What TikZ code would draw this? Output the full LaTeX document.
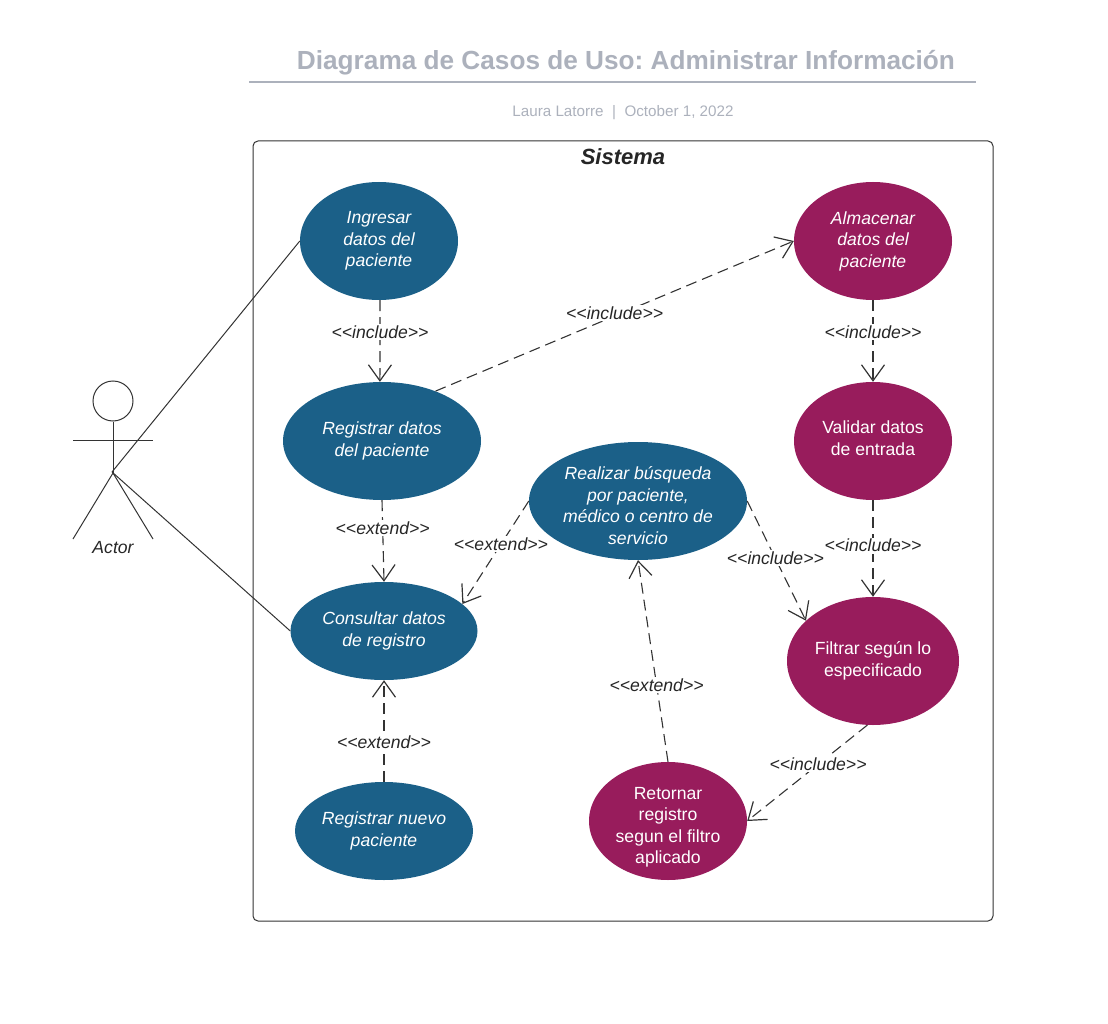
\documentclass[tikz,border=0pt]{standalone}
\usepackage{fontspec}
\setmainfont{Liberation Sans}
\frenchspacing
\usetikzlibrary{shapes.geometric,arrows.meta}
\definecolor{casoazul}{HTML}{1B6088}
\definecolor{casovino}{HTML}{981C5C}
\definecolor{titulogris}{HTML}{ACB1BC}
\definecolor{linea}{HTML}{333333}
\begin{document}
\begin{tikzpicture}[
    x=1pt, y=-1pt,
    azul/.style={ellipse, fill=casoazul, text=white, inner sep=0pt, align=center, font=\fontsize{17.6}{21.5}\selectfont\itshape},
    vino/.style={ellipse, fill=casovino, text=white, inner sep=0pt, align=center, font=\fontsize{17.6}{21.5}\selectfont},
    relacion/.style={draw=linea, line width=1.1pt, dash pattern=on 11pt off 6pt, -{Straight Barb[length=16pt,width=23pt,line width=1.2pt]}},
    etiqueta/.style={fill=white, text=black!85, inner sep=1.5pt, font=\fontsize{17.6}{20}\selectfont\itshape},
    trazo/.style={draw=linea, line width=1pt}
]
\useasboundingbox (0,0) rectangle (1108,1024);

% Title
\node[text=titulogris, font=\fontsize{26.2}{30}\selectfont\bfseries] (titulo) at (626,62.5) {Diagrama de Casos de Uso: Administrar Información};
\coordinate (reglaizq) at (249,82);
\coordinate (reglader) at (976,82);
\draw[titulogris, line width=1.4pt] (reglaizq) -- (reglader);
\node[text=titulogris, font=\fontsize{15.2}{18}\selectfont] (autor) at (623,113) {Laura Latorre~~|~~October 1, 2022};

% System box
\node[draw=linea, line width=1pt, rounded corners=5pt, minimum width=740pt, minimum height=780pt, inner sep=0pt] (sistema) at (623,531) {};
\node[text=black!85, font=\fontsize{22}{24}\selectfont\bfseries\itshape] (sistemalabel) at (623,157) {Sistema};

% Left column
\node[azul, minimum width=158pt, minimum height=118pt] (ingresar) at (379,241) {Ingresar\\datos del\\paciente};
\node[azul, minimum width=198pt, minimum height=118pt] (registrar) at (382,441) {Registrar datos\\del paciente};
\node[azul, minimum width=187pt, minimum height=98pt] (consultar) at (384,631) {Consultar datos\\de registro};
\node[azul, minimum width=178pt, minimum height=98pt] (nuevo) at (384,831) {Registrar nuevo\\paciente};

% Middle
\node[azul, minimum width=218pt, minimum height=118pt, inner ysep=-12pt] (realizar) at (638,501) {\rule{0pt}{22pt}Realizar búsqueda\\por paciente,\\médico o centro de\\servicio};
\node[vino, minimum width=158pt, minimum height=118pt, inner ysep=-12pt] (retornar) at (668,821) {\rule{0pt}{25pt}Retornar\\registro\\segun el filtro\\aplicado};

% Right column
\node[vino, minimum width=158pt, minimum height=118pt, font=\fontsize{17.6}{21.5}\selectfont\itshape] (almacenar) at (873,241) {Almacenar\\datos del\\paciente};
\node[vino, minimum width=158pt, minimum height=118pt] (validar) at (873,441) {Validar datos\\de entrada\rule[-6pt]{0pt}{6pt}};
\node[vino, minimum width=172pt, minimum height=128pt] (filtrar) at (873,661) {Filtrar según lo\\especificado};

% Actor
\node[circle, trazo, minimum size=40pt, inner sep=0pt] (cabeza) at (113,401) {};
\coordinate (cadera) at (113,473);
\coordinate (brazoizq) at (73,440);
\coordinate (brazoder) at (153,440);
\coordinate (pieizq) at (73,539);
\coordinate (pieder) at (153,539);
\coordinate (enlace) at (112,472);
\draw[trazo] (cabeza.south) -- (cadera);
\draw[trazo] (brazoizq) -- (brazoder);
\draw[trazo] (pieizq) -- (cadera) -- (pieder);
\node[text=black!85, font=\fontsize{17.6}{20}\selectfont\itshape] (actor) at (113,548) {Actor};

% Actor links
\draw[trazo] (enlace) -- (ingresar.west);
\draw[trazo] (enlace) -- (consultar.west);

% Relations
\draw[relacion] (ingresar.271) -- node[etiqueta, pos=.39] (inc1) {<{}<include>{}>} (registrar.92);
\draw[relacion] (registrar.43) -- node[etiqueta, pos=.5, yshift=3pt] (inc2) {<{}<include>{}>} (almacenar.west);
\draw[relacion] (almacenar.south) -- node[etiqueta, pos=.39] (inc3) {<{}<include>{}>} (validar.north);
\draw[relacion] (validar.south) -- node[etiqueta, pos=.47] (inc4) {<{}<include>{}>} (filtrar.north);
\draw[relacion] (realizar.east) -- node[etiqueta, pos=.48] (inc5) {<{}<include>{}>} (filtrar.149);
\draw[relacion] (filtrar.265) -- node[etiqueta, pos=.41] (inc6) {<{}<include>{}>} (retornar.east);
\draw[relacion] (registrar.south) -- node[etiqueta, pos=.34] (ext1) {<{}<extend>{}>} (consultar.north);
\draw[relacion] (realizar.west) -- node[etiqueta, pos=.42] (ext2) {<{}<extend>{}>} (consultar.19);
\draw[relacion] (retornar.north) -- node[etiqueta, pos=.38] (ext3) {<{}<extend>{}>} (realizar.south);
\draw[relacion] (nuevo.north) -- node[etiqueta, pos=.39] (ext4) {<{}<extend>{}>} (consultar.south);

\end{tikzpicture}
\end{document}
